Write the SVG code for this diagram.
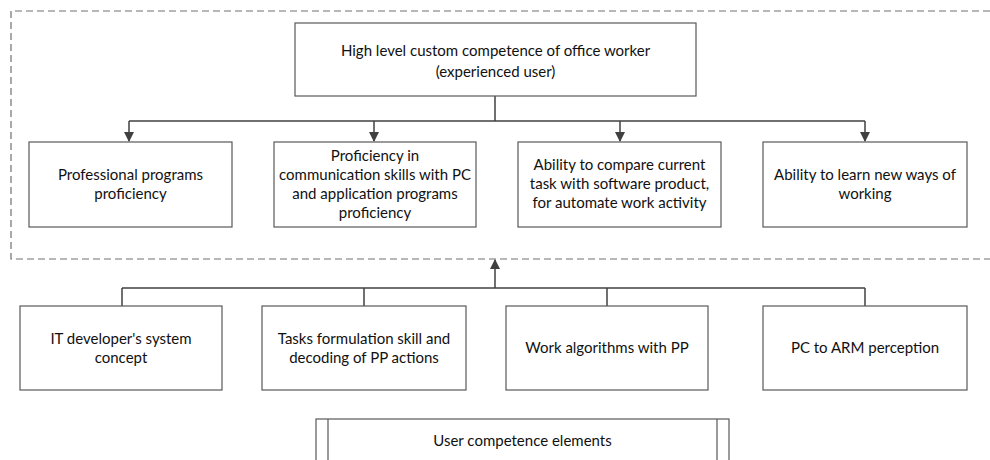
<svg xmlns="http://www.w3.org/2000/svg" width="990" height="460" viewBox="0 0 990 460">
<style>
.box{fill:#fff;stroke:#595959;stroke-width:1.2}
.t{font-family:Lato,"Liberation Sans",sans-serif;font-size:15px;fill:#111;text-anchor:middle}
.c{fill:none;stroke:#404040;stroke-width:1.5}
.dash{fill:none;stroke:#707070;stroke-width:1.2;stroke-dasharray:7,4}
</style>
<defs>
<marker id="ah" markerWidth="10" markerHeight="10" refX="9" refY="5" orient="auto" markerUnits="userSpaceOnUse">
<path d="M0,0 L10,5 L0,10 z" fill="#404040"/>
</marker>
</defs>
<rect class="bg" x="0" y="0" width="990" height="460" fill="#fff"/>
<path class="dash" d="M990,11 H11 V259 H990"/>
<g id="connectors">
<path class="c" d="M495,96 V121"/>
<path class="c" d="M129,121 H865"/>
<path class="c" d="M129,121 V141" marker-end="url(#ah)"/>
<path class="c" d="M374,121 V141" marker-end="url(#ah)"/>
<path class="c" d="M620,121 V141" marker-end="url(#ah)"/>
<path class="c" d="M865,121 V141" marker-end="url(#ah)"/>
<path class="c" d="M122,288 H865"/>
<path class="c" d="M122,288 V306"/>
<path class="c" d="M364,288 V306"/>
<path class="c" d="M607,288 V306"/>
<path class="c" d="M865,288 V306"/>
<path class="c" d="M495,288 V260" marker-end="url(#ah)"/>
</g>
<g id="top">
<rect class="box" x="295" y="23" width="401" height="73"/>
<text class="t" x="495.5" y="56">High level custom competence of office worker</text>
<text class="t" x="495.5" y="77">(experienced user)</text>
</g>
<g id="n1">
<rect class="box" x="29" y="142" width="203" height="85"/>
<text class="t" x="130.5" y="180">Professional programs</text>
<text class="t" x="130.5" y="199">proficiency</text>
</g>
<g id="n2">
<rect class="box" x="274" y="142" width="202" height="85"/>
<text class="t" x="375" y="161">Proficiency in</text>
<text class="t" x="375" y="180">communication skills with PC</text>
<text class="t" x="375" y="199">and application programs</text>
<text class="t" x="375" y="218">proficiency</text>
</g>
<g id="n3">
<rect class="box" x="518" y="142" width="203" height="85"/>
<text class="t" x="619.5" y="170">Ability to compare current</text>
<text class="t" x="619.5" y="189">task with software product,</text>
<text class="t" x="619.5" y="208">for automate work activity</text>
</g>
<g id="n4">
<rect class="box" x="763" y="142" width="204" height="85"/>
<text class="t" x="865" y="180">Ability to learn new ways of</text>
<text class="t" x="865" y="199">working</text>
</g>
<g id="b1">
<rect class="box" x="20" y="306" width="202" height="84"/>
<text class="t" x="121" y="344">IT developer's system</text>
<text class="t" x="121" y="363">concept</text>
</g>
<g id="b2">
<rect class="box" x="262" y="306" width="204" height="84"/>
<text class="t" x="364" y="344">Tasks formulation skill and</text>
<text class="t" x="364" y="363">decoding of PP actions</text>
</g>
<g id="b3">
<rect class="box" x="506" y="306" width="202" height="84"/>
<text class="t" x="607" y="353">Work algorithms with PP</text>
</g>
<g id="b4">
<rect class="box" x="763" y="306" width="204" height="84"/>
<text class="t" x="865" y="353">PC to ARM perception</text>
</g>
<g id="legend">
<rect class="box" x="316" y="419" width="413" height="50"/>
<path class="box" d="M328,419 V460 M717,419 V460"/>
<text class="t" x="522.5" y="446">User competence elements</text>
</g>
</svg>
